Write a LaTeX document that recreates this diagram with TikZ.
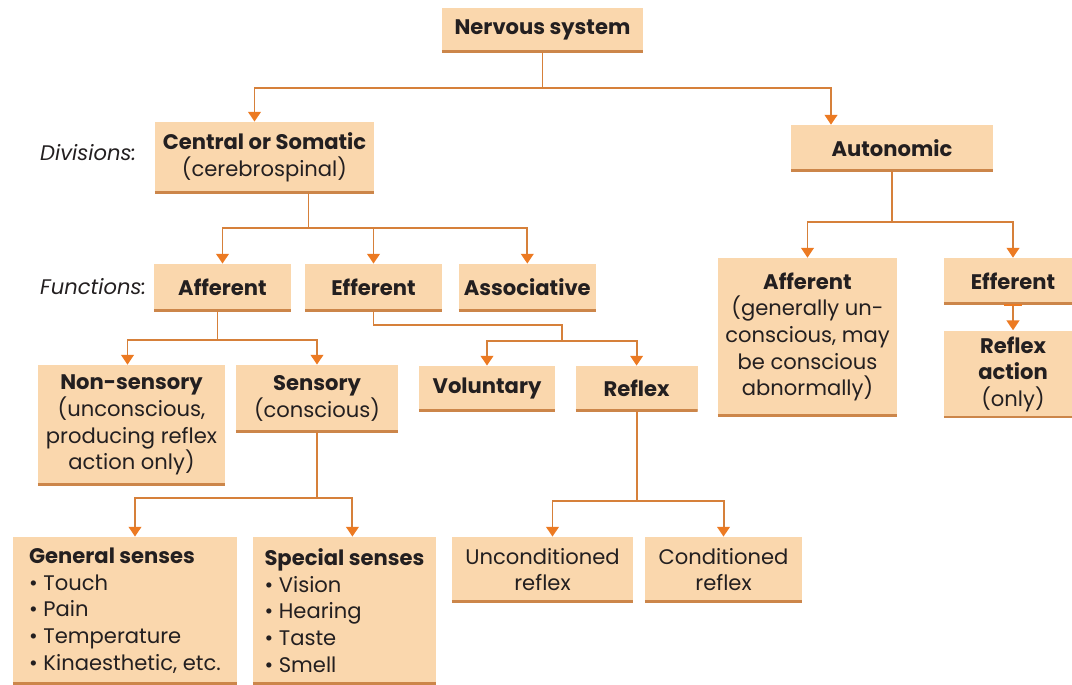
\documentclass[tikz,border=0pt]{standalone}
\usepackage{fontspec}
\setmainfont{Poppins}
\usetikzlibrary{arrows.meta, positioning, calc}

\definecolor{peach}{RGB}{250,215,173}
\definecolor{peachedge}{RGB}{204,134,74}
\definecolor{wireclr}{RGB}{214,128,58}
\definecolor{tipclr}{RGB}{236,122,34}
\definecolor{inkclr}{RGB}{35,31,32}

\begin{document}
\begin{tikzpicture}[x=0.025cm, y=-0.025cm,
    box/.style={rectangle, fill=peach, inner sep=2pt, align=center, text=inkclr,
        font=\fontsize{15}{19}\selectfont,
        path picture={\draw[peachedge, line width=2.4pt]
            (path picture bounding box.south west) -- (path picture bounding box.south east);}},
    tag/.style={font=\fontsize{15}{19}\selectfont\itshape, text=inkclr, anchor=east},
    wire/.style={draw=wireclr, line width=1.4pt},
    arr/.style={wire, -{Triangle[width=9pt, length=7pt, color=tipclr]}},
    barr/.style={wire, {Bar[width=13pt, color=tipclr]}-{Triangle[width=9pt, length=7pt, color=tipclr]}}
]
    \useasboundingbox (0,0) rectangle (1072,684);

    % top and divisions
    \node[box, minimum width=5.03cm, minimum height=1.1cm] (ns) at (542.5,30) {\textbf{Nervous system}};
    \node[box, minimum width=5.48cm, minimum height=1.78cm] (cns) at (264.5,157.5) {
        \textbf{Central or Somatic}\\
        (cerebrospinal)
    };
    \node[box, minimum width=5.05cm, minimum height=1.15cm] (ans) at (892,148) {\textbf{Autonomic}};
    \node[tag] (divl) at (141,153) {Divisions:};

    % functions
    \node[box, minimum width=3.43cm, minimum height=1.18cm] (aff) at (222.5,287.5) {\textbf{Afferent}};
    \node[box, minimum width=3.43cm, minimum height=1.18cm, right=0.33cm of aff] (eff) {\textbf{Efferent}};
    \node[box, minimum width=3.43cm, minimum height=1.18cm, right=0.4cm of eff] (asc) {\textbf{Associative}};
    \node[tag] (funl) at (151,287) {Functions:};

    % afferent branch
    \node[box, minimum width=4.68cm, minimum height=3cm] (nons) at (131.5,425) {
        \textbf{Non-sensory}\\
        (unconscious,\\
        producing reflex\\
        action only)
    };
    \node[box, minimum width=4.05cm, minimum height=1.68cm] (sens) at (317,398.5) {
        \textbf{Sensory}\\
        (conscious)
    };
    \node[box, minimum width=5.6cm, minimum height=3.68cm, align=left] (gen) at (125,610.5) {
        \textbf{General senses}\\
        • Touch\\
        • Pain\\
        • Temperature\\
        • Kinaesthetic, etc.
    };
    \node[box, minimum width=4.58cm, minimum height=3.68cm, align=left, right=0.38cm of gen] (spec) {
        \textbf{Special senses}\\
        • Vision\\
        • Hearing\\
        • Taste\\
        • Smell
    };

    % efferent branch
    \node[box, minimum width=3.4cm, minimum height=1.13cm] (vol) at (487,388.5) {\textbf{Voluntary}};
    \node[box, minimum width=3.05cm, minimum height=1.13cm, right=0.5cm of vol] (rfx) {\textbf{Reflex}};
    \node[box, minimum width=4.53cm, minimum height=1.63cm] (uncond) at (542.5,569.5) {
        Unconditioned\\
        reflex
    };
    \node[box, minimum width=3.93cm, minimum height=1.63cm, right=0.28cm of uncond] (cond) {
        Conditioned\\
        reflex
    };

    % autonomic branch
    \node[box, minimum width=4.48cm, minimum height=3.95cm] (aaff) at (807.5,337) {
        \textbf{Afferent}\\
        (generally un-\\
        conscious, may\\
        be conscious\\
        abnormally)
    };
    \node[box, minimum width=3.45cm, minimum height=1.15cm] (aeff) at (1013,281) {\textbf{Efferent}};
    \node[box, minimum width=3.45cm, minimum height=2.18cm, below=0.65cm of aeff] (rfa) {
        \textbf{Reflex}\\
        \textbf{action}\\
        (only)
    };

    % connectors
    \draw[wire] (ns.south) -- ++(0,36) coordinate (t0);
    \draw[arr] (t0) -| ($(cns.north)+(-10,0)$);
    \draw[arr] (t0) -| ($(ans.north)+(-61,0)$);

    \draw[wire] ($(cns.south)+(44,0)$) -- ++(0,35) coordinate (t1);
    \draw[arr] (t1) -| (aff.north);
    \draw[arr] (t1) -| (eff.north);
    \draw[arr] (t1) -| (asc.north);

    \draw[wire] (ans.south) -- ++(0,51) coordinate (t2);
    \draw[arr] (t2) -| (aaff.north);
    \draw[arr] (t2) -| (aeff.north);
    \draw[barr] (aeff.south) -- (rfa.north);

    \draw[wire] ($(aff.south)+(-5,0)$) -- ++(0,29) coordinate (t3);
    \draw[arr] (t3) -| ($(nons.north)+(-4,0)$);
    \draw[arr] (t3) -| (sens.north);

    \coordinate (t4) at ($(vol.north)!0.5!(rfx.north)+(0,-25)$);
    \draw[wire] (eff.south) -- ++(0,14) -| (t4);
    \draw[arr] (t4) -| (vol.north);
    \draw[arr] (t4) -| (rfx.north);

    \draw[wire] (rfx.south) -- ++(0,90) coordinate (t5);
    \draw[arr] (t5) -| ($(uncond.north)+(10,0)$);
    \draw[arr] (t5) -| (cond.north);

    \draw[wire] (sens.south) -- ++(0,66) coordinate (t6);
    \draw[arr] (t6) -| ($(gen.north)+(10,0)$);
    \draw[arr] (t6) -| ($(spec.north)+(8,0)$);

\end{tikzpicture}
\end{document}
